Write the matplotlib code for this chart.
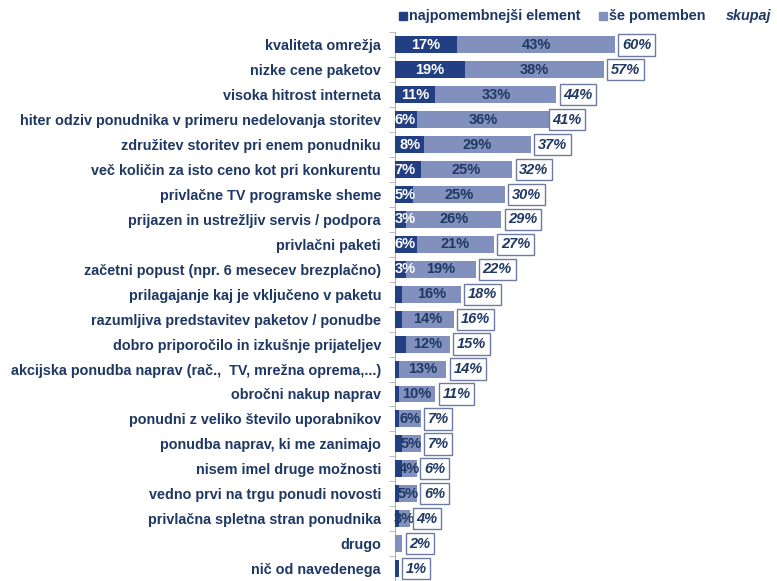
import matplotlib
matplotlib.use("Agg")
import matplotlib.pyplot as plt
import numpy as np

plt.rcParams['font.family'] = ['Liberation Sans', 'DejaVu Sans']

categories = [
    "kvaliteta omrežja",
    "nizke cene paketov",
    "visoka hitrost interneta",
    "hiter odziv ponudnika v primeru nedelovanja storitev",
    "združitev storitev pri enem ponudniku",
    "več količin za isto ceno kot pri konkurentu",
    "privlačne TV programske sheme",
    "prijazen in ustrežljiv servis / podpora",
    "privlačni paketi",
    "začetni popust (npr. 6 mesecev brezplačno)",
    "prilagajanje kaj je vključeno v paketu",
    "razumljiva predstavitev paketov / ponudbe",
    "dobro priporočilo in izkušnje prijateljev",
    "akcijska ponudba naprav (rač.,  TV, mrežna oprema,...)",
    "obročni nakup naprav",
    "ponudni z veliko število uporabnikov",
    "ponudba naprav, ki me zanimajo",
    "nisem imel druge možnosti",
    "vedno prvi na trgu ponudi novosti",
    "privlačna spletna stran ponudnika",
    "drugo",
    "nič od navedenega",
]
najpomembnejsi = [17, 19, 11, 6, 8, 7, 5, 3, 6, 3, 2, 2, 3, 1, 1, 1, 2, 2, 1, 1, 0, 1]
se_pomemben    = [43, 38, 33, 36, 29, 25, 25, 26, 21, 19, 16, 14, 12, 13, 10, 6, 5, 4, 5, 3, 2, 0]
skupaj         = [60, 57, 44, 41, 37, 32, 30, 29, 27, 22, 18, 16, 15, 14, 11, 7, 7, 6, 6, 4, 2, 1]
dark_labeled   = [True] * 10 + [False] * 12
light_labeled  = [True] * 20 + [False] * 2

legend_labels = ["najpomembnejši element", "še pomemben", "skupaj"]

DARK = "#233f83"
LIGHT = "#8190bd"
TEXT = "#1f3864"

W, H = 777, 581
fig = plt.figure(figsize=(W / 100, H / 100), dpi=100)
px_per_pct = 220 / 60.0
ax_left = 395
ax_width = W - ax_left
row_h = (573 - 45) / 21.0
top_px = 45 - row_h / 2
ax = fig.add_axes([ax_left / W, 0, ax_width / W, 1 - top_px / H])
ax.set_xlim(0, ax_width / px_per_pct)
ax.set_ylim((581 - 45) / row_h, -0.5)

y = np.arange(len(categories))
d = np.array(najpomembnejsi)
l = np.array(se_pomemben)
t = np.array(skupaj)
ax.barh(y, d, height=0.68, color=DARK, zorder=2)
ax.barh(y, l, left=d, height=0.68, color=LIGHT, zorder=2)

FS = 10.5
for i in range(len(categories)):
    if dark_labeled[i] and d[i] > 0:
        if d[i] >= 8:
            ax.text(d[i] / 2, i, f"{d[i]}%", ha='center', va='center', color='white',
                    fontsize=FS, fontweight='bold', zorder=3)
        else:
            ax.text(-0.15, i, f"{d[i]}%", ha='left', va='center', color='white',
                    fontsize=FS, fontweight='bold', zorder=3)
    if light_labeled[i] and l[i] > 0:
        ax.text(d[i] + l[i] / 2, i, f"{l[i]}%", ha='center', va='center', color=TEXT,
                fontsize=FS, fontweight='bold', zorder=3)
    ax.text(t[i] + 7 / px_per_pct, i, f"{t[i]}%", ha='left', va='center', color=TEXT,
            fontsize=FS, fontweight='bold', style='italic', zorder=4,
            bbox=dict(boxstyle='square,pad=0.25', fc='white', ec='#6d7ba3', lw=1.0))

ax.set_yticks(y)
ax.set_yticklabels(categories, fontsize=10.4, fontweight='bold', color=TEXT)
ax.tick_params(axis='y', which='major', length=0, pad=10)
ax.set_yticks(np.arange(-0.5, len(categories), 1.0), minor=True)
ax.tick_params(axis='y', which='minor', length=4, color='#b0b0b0', direction='out')
ax.set_xticks([])
for s in ['top', 'right', 'bottom']:
    ax.spines[s].set_visible(False)
ax.spines['left'].set_color('#b0b0b0')
ax.spines['left'].set_zorder(1)

# legend
ly = 1 - 16 / H
LFS = 10.4
fig.patches.append(plt.Rectangle((399 / W, ly - 4 / H), 8 / W, 8 / H,
                                 transform=fig.transFigure, color=DARK, figure=fig))
fig.text(409 / W, ly, legend_labels[0], ha='left', va='center', fontsize=LFS,
         fontweight='bold', color=TEXT)
fig.patches.append(plt.Rectangle((599 / W, ly - 4 / H), 8 / W, 8 / H,
                                 transform=fig.transFigure, color=LIGHT, figure=fig))
fig.text(609 / W, ly, legend_labels[1], ha='left', va='center', fontsize=LFS,
         fontweight='bold', color=TEXT)
fig.text(726 / W, ly, legend_labels[2], ha='left', va='center', fontsize=LFS,
         fontweight='bold', style='italic', color=TEXT)

fig.savefig("out.png", dpi=100)
